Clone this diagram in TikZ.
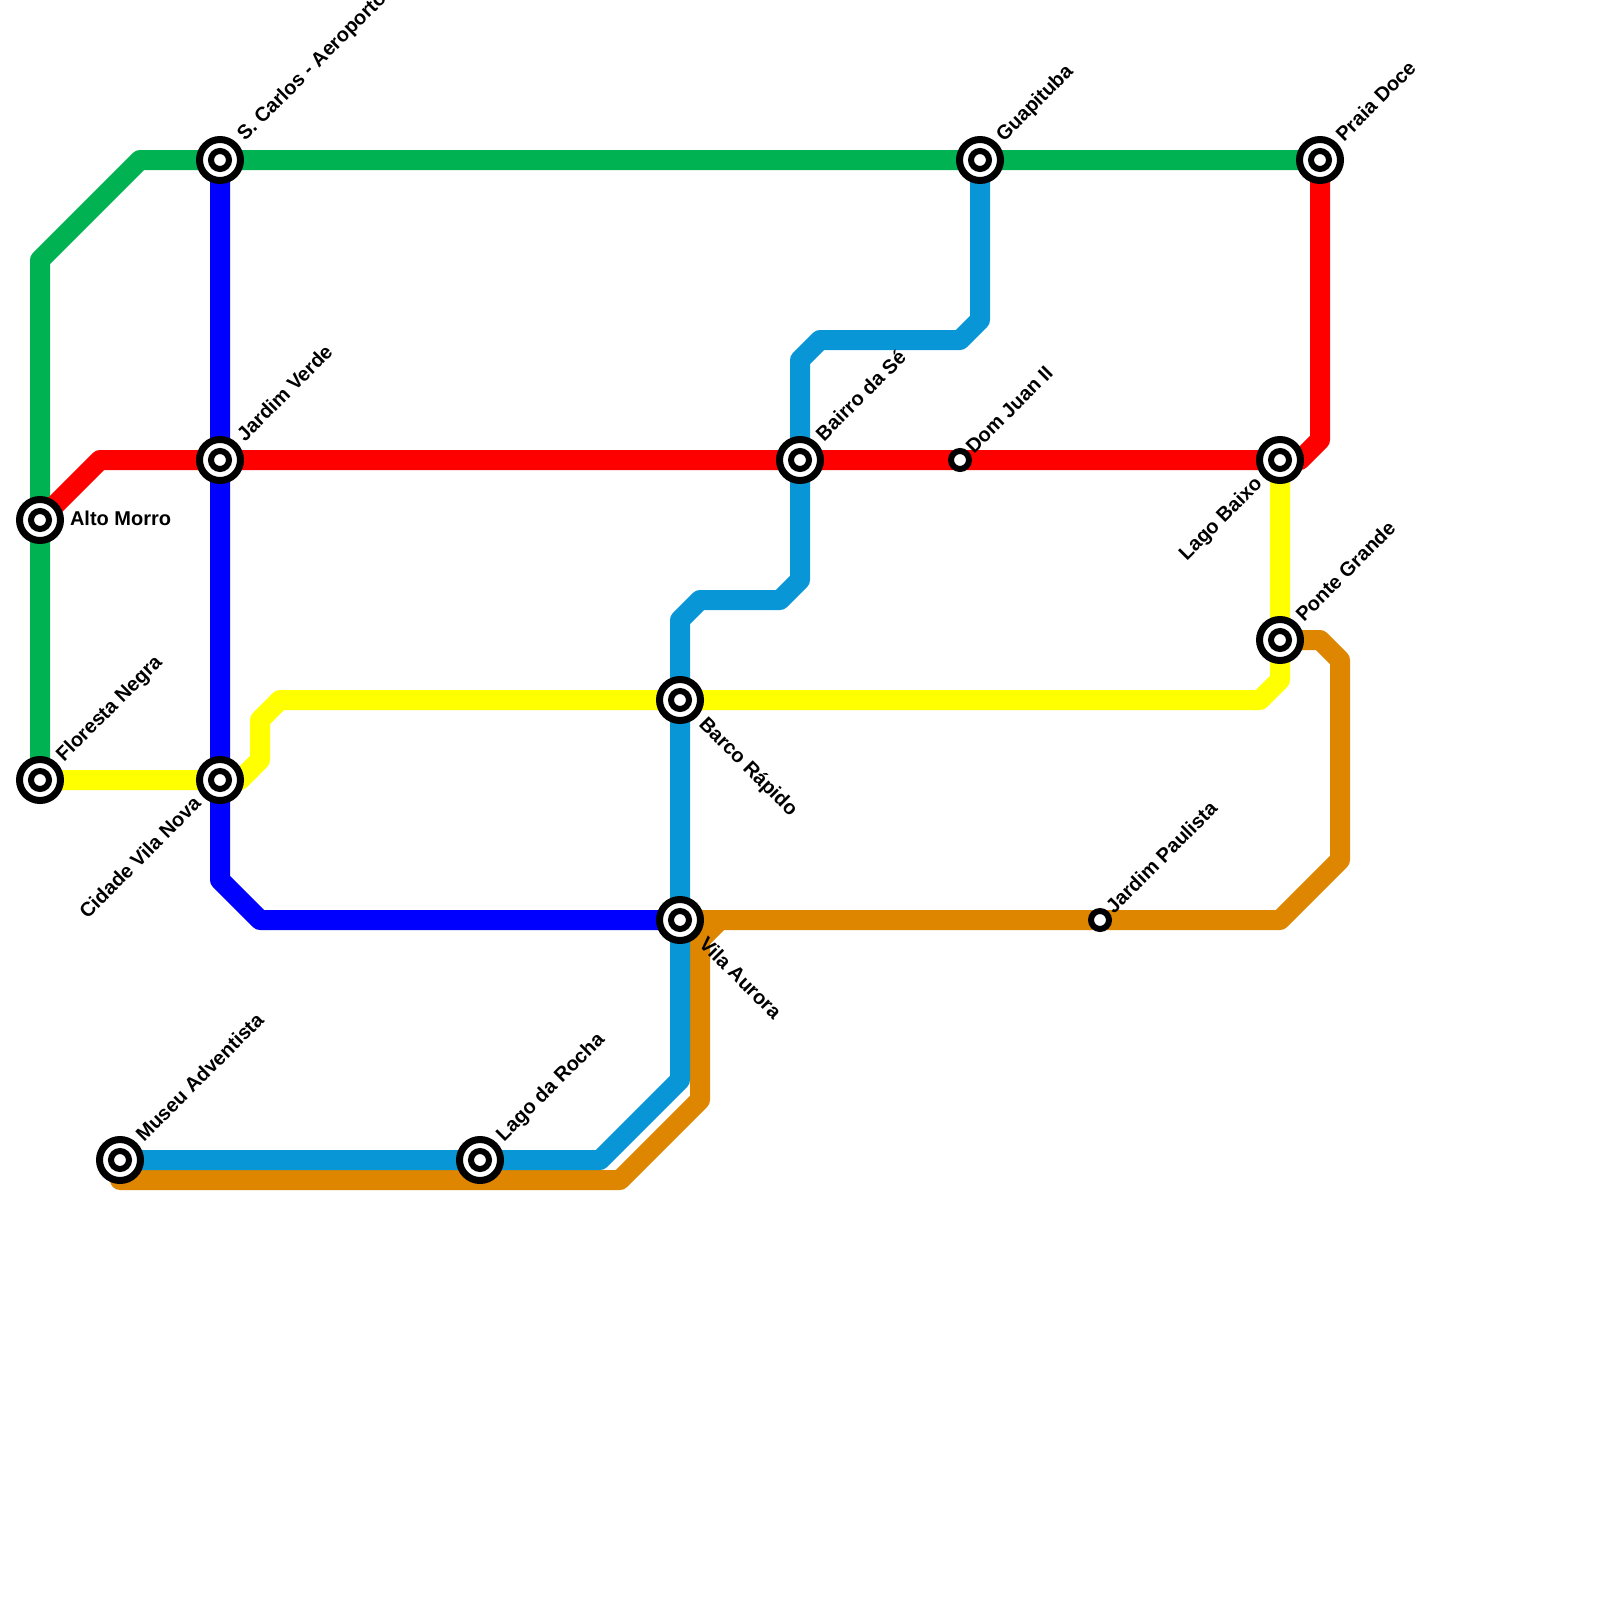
\documentclass[tikz,border=0pt]{standalone}
\usepackage{fontspec}
\setmainfont{Liberation Sans}
\usetikzlibrary{backgrounds}
\tikzset{
  x=1pt,y=-1pt,
  metro/.style={line width=20pt,line join=round,line cap=round},
  hub/.style={circle,draw=black,fill=white,line width=7pt,minimum size=41pt,inner sep=0pt,outer sep=0pt},
  hubdot/.style={circle,draw=black,fill=white,line width=6pt,minimum size=18pt,inner sep=0pt,outer sep=0pt},
  halt/.style={circle,draw=black,fill=white,line width=6pt,minimum size=18pt,inner sep=0pt,outer sep=0pt},
  lbl/.style={font=\fontsize{20}{20}\selectfont\bfseries,inner sep=0pt,outer sep=0pt,text=black},
  up/.style={lbl,rotate=45,anchor=base west},
  upend/.style={lbl,rotate=45,anchor=base east},
  down/.style={lbl,rotate=-45,anchor=base west},
  flat/.style={lbl,anchor=base west}
}
\definecolor{cgreen}{HTML}{00B251}
\definecolor{cblue}{HTML}{0000FF}
\definecolor{cred}{HTML}{FF0000}
\definecolor{cyellow}{HTML}{FFFF00}
\definecolor{csky}{HTML}{0896D7}
\definecolor{corange}{HTML}{DF8600}
\begin{document}
\begin{tikzpicture}
\useasboundingbox (0,0) rectangle (1600,1600);
% stations
\foreach \n/\x/\y in {scarlos/220/160,guapi/980/160,praia/1320/160,jverde/220/460,bairro/800/460,lbaixo/1280/460,alto/40/520,ponte/1280/640,barco/680/700,floresta/40/780,cvila/220/780,vaurora/680/920,museu/120/1160,lrocha/480/1160}{
  \node[hub] (\n) at (\x,\y) {};
  \node[hubdot] (\n d) at (\x,\y) {};
}
\node[halt] (djuan) at (960,460) {};
\node[halt] (jpaul) at (1100,920) {};
% lines
\begin{scope}[on background layer]
\draw[metro,cgreen] (floresta.center) -- (alto.center) -- (40,260) -- (140,160) -- (scarlos.center) -- (guapi.center) -- (praia.center);
\draw[metro,cblue] (scarlos.center) -- (jverde.center) -- (cvila.center) -- (220,880) -- (260,920) -- (vaurora.center);
\draw[metro,cred] (alto.center) -- (100,460) -- (jverde.center) -- (bairro.center) -- (djuan.center) -- (lbaixo.center) -- (1300,460) -- (1320,440) -- (praia.center);
\draw[metro,cyellow] (floresta.center) -- (cvila.center) -- (240,780) -- (260,760) -- (260,720) -- (280,700) -- (barco.center) -- (1260,700) -- (1280,680) -- (ponte.center) -- (lbaixo.center);
\draw[metro,corange] (museu.center) ++(0,20) coordinate (ostart) -- (620,1180) -- (700,1100) -- (700,940) -- (720,920) -- (vaurora.center);
\draw[metro,corange] (720,920) -- (jpaul.center) -- (1280,920) -- (1340,860) -- (1340,660) -- (1320,640) -- (ponte.center);
\draw[metro,csky] (museu.center) -- (lrocha.center) -- (600,1160) -- (680,1080) -- (vaurora.center) -- (barco.center) -- (680,620) -- (700,600) -- (780,600) -- (800,580) -- (bairro.center) -- (800,360) -- (820,340) -- (960,340) -- (980,320) -- (guapi.center);
\end{scope}
% labels
\node[up] (l1) at (245,142) {S. Carlos - Aeroporto};
\node[up] (l2) at (1004,142.5) {Guapituba};
\node[up] (l3) at (1344,142.5) {Praia Doce};
\node[up] (l4) at (245,442) {Jardim Verde};
\node[up] (l5) at (824,442) {Bairro da Sé};
\node[up] (l6) at (974,454.5) {Dom Juan II};
\node[upend] (l7) at (1263,485) {Lago Baixo};
\node[up] (l8) at (1304,622.5) {Ponte Grande};
\node[flat] (l9) at (70,525) {Alto Morro};
\node[up] (l10) at (64,762.5) {Floresta Negra};
\node[upend] (l11) at (202,805) {Cidade Vila Nova};
\node[down] (l12) at (698,725) {Barco Rápido};
\node[down] (l13) at (698,945) {Vila Aurora};
\node[up] (l14) at (1114,914.5) {Jardim Paulista};
\node[up] (l15) at (144,1142.5) {Museu Adventista};
\node[up] (l16) at (504,1142) {Lago da Rocha};
\end{tikzpicture}
\end{document}
